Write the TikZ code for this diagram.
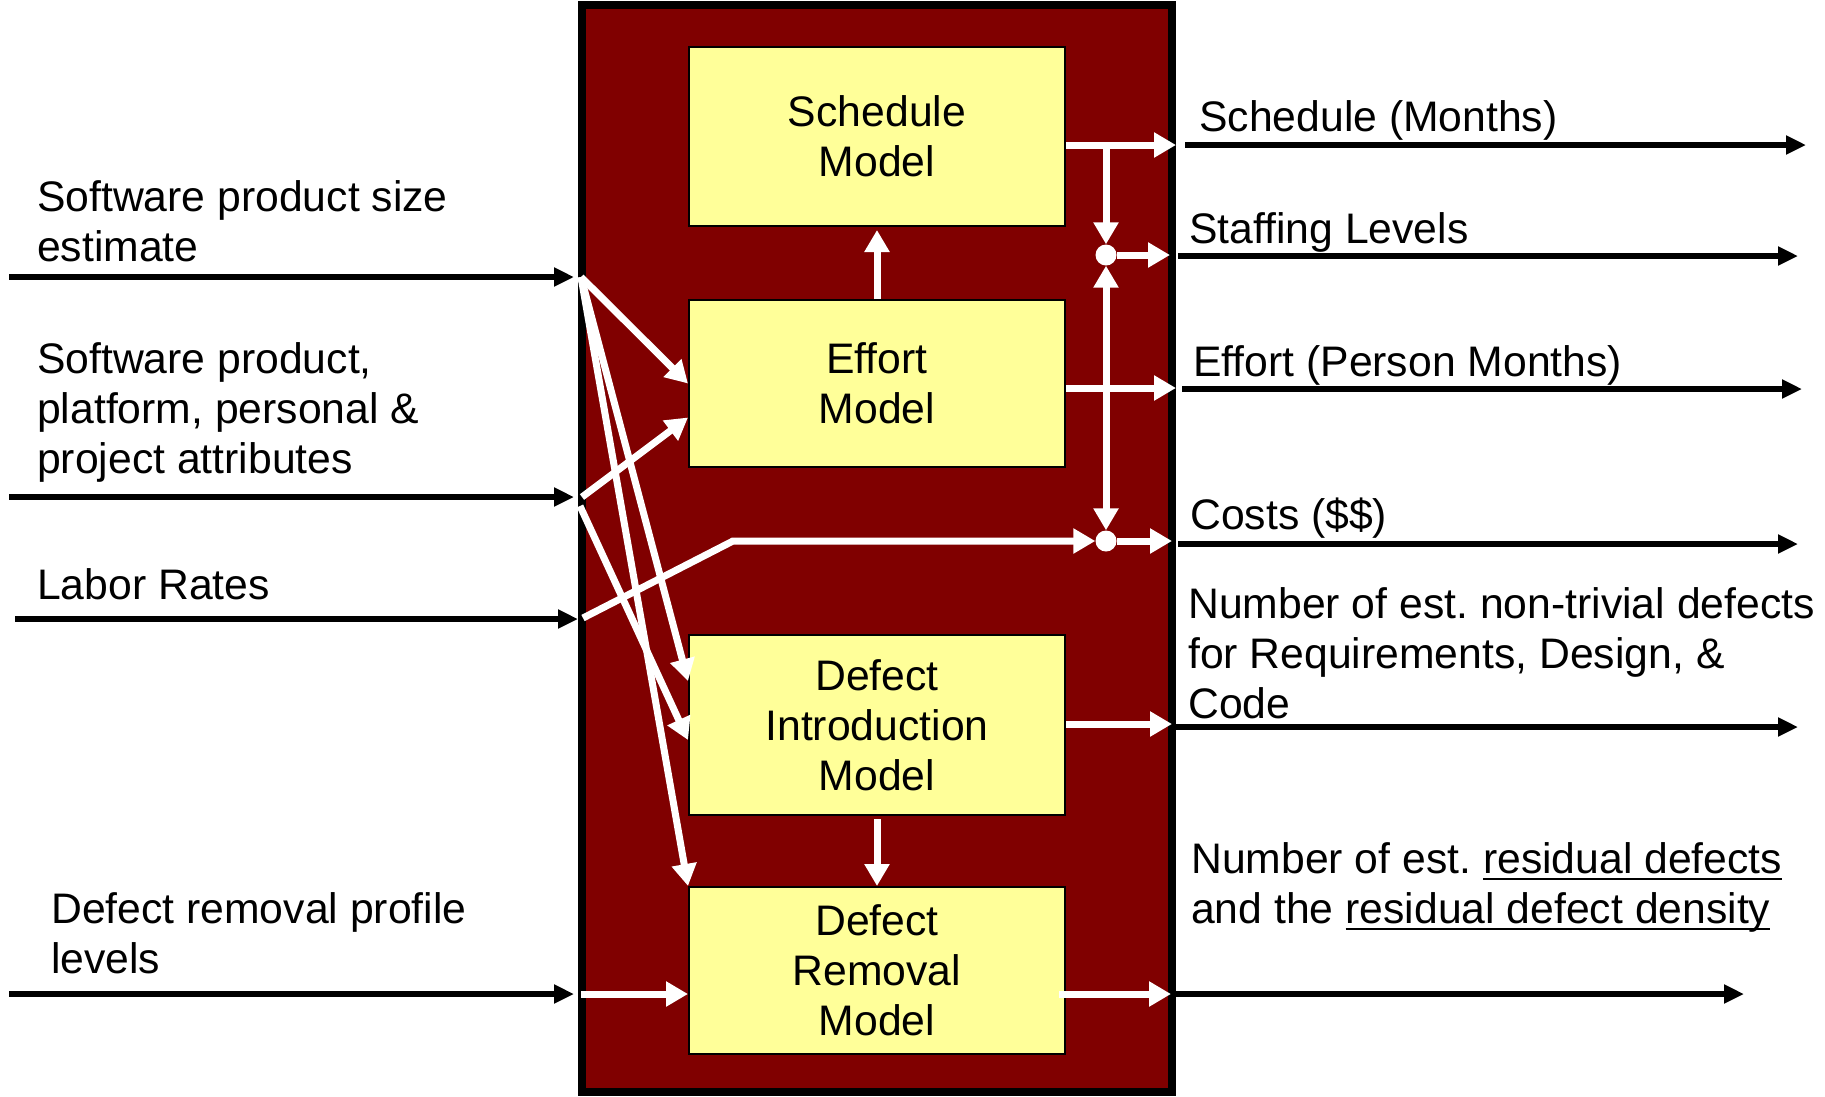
\documentclass[tikz,border=0pt]{standalone}
\usepackage{fontspec}
\setmainfont{Liberation Sans}
\usetikzlibrary{arrows.meta,calc}
\definecolor{boxred}{HTML}{800000}
\definecolor{modelyellow}{HTML}{FFFF99}
% underline drawn as a rule just below the baseline (descenders cross it)
\newcommand\undl[1]{\setbox0\hbox{#1}\dp0=0pt\vtop{\box0\kern5pt\hrule height 1.6pt}}
\frenchspacing
\begin{document}
\begin{tikzpicture}[x=1pt,y=-1pt,
  every node/.style={font=\fontsize{42.7}{50}\selectfont},
  model/.style={draw=black, line width=2pt, fill=modelyellow, minimum width=376pt,
    align=center, inner sep=0pt},
  lbl/.style={anchor=base west, align=left, inner sep=0pt},
  flow/.style={line width=6pt, -{Triangle[length=20pt,width=18pt]}},
  warrow/.style={draw=white, line width=7pt, -{Triangle[length=22pt,width=24pt]}},
  junction/.style={circle, fill=white, minimum size=21pt, inner sep=0pt},
]
\useasboundingbox (0,0) rectangle (1825,1096);

% the estimation model enclosure
\draw[line width=8pt, fill=boxred] (582,5) rectangle (1172,1092);

% sub-models
\node[model, minimum height=179pt] (sched)   at (877,136.5) {Schedule\\Model};
\node[model, minimum height=167pt] (effort)  at (877,383.5) {Effort\\Model};
\node[model, minimum height=180pt] (intro)   at (877,725)   {Defect\\Introduction\\Model};
\node[model, minimum height=167pt] (removal) at (877,970.5) {Defect\\Removal\\Model};

% input labels (placed by the baseline of their last line)
\node[lbl] (lsize)  at (37,261) {Software product size\\estimate};
\node[lbl] (lattr)  at (37,473) {Software product,\\platform, personal \&\\project attributes};
\node[lbl] (llabor) at (37,599) {Labor Rates};
\node[lbl] (lprof)  at (51,973) {Defect removal profile\\levels};

% output labels
\node[lbl] (osched) at (1199,131) {Schedule (Months)};
\node[lbl] (ostaff) at (1189,243) {Staffing Levels};
\node[lbl] (oeff)   at (1193,376) {Effort (Person Months)};
\node[lbl] (ocost)  at (1190,529) {Costs (\$\$)};
\node[lbl] (odef)   at (1188,718) {Number of est. non-trivial defects\\for Requirements, Design, \&\\Code};
\node[lbl] (ores)   at (1191,923) {Number of est. \undl{residual defects}\\and the \undl{residual defect density}};

% input connectors
\coordinate (s1) at (9,277);   \coordinate (t1) at (574,277);  \coordinate (in1) at (581,277);
\coordinate (s2) at (9,497);   \coordinate (t2) at (574,497);  \coordinate (in2) at (582,497);
\coordinate (in2b) at (580,506);
\coordinate (s3) at (15,619);  \coordinate (t3) at (578,619);  \coordinate (in3) at (583,618);
\coordinate (s4) at (9,994);   \coordinate (t4) at (574,994);  \coordinate (in4) at (581,994);

\draw[flow] (s1) -- (t1);
\draw[flow] (s2) -- (t2);
\draw[flow] (s3) -- (t3);
\draw[flow] (s4) -- (t4);

% junction points
\node[junction] (jstaff) at (1106,255) {};
\node[junction] (jcost)  at (1106,541) {};
\coordinate (lbend) at (733,541);

% output points on the enclosure
\coordinate (r1) at (1176,145);
\coordinate (r2) at (1170,255);
\coordinate (r3) at (1176,388);
\coordinate (r4) at (1172,541);
\coordinate (r5) at (1172,724);
\coordinate (r6) at (1171,994);

% inputs into the sub-models
\draw[warrow] (in1) -- (effort.west);
\draw[warrow] (in2) -- ($(effort.west)+(0,34)$);
\draw[warrow] (in1) -- ($(intro.west)+(0,-44)$);
\draw[warrow] (in2b) -- ($(intro.west)+(0,15)$);
\draw[warrow] (in1) -- (removal.north west);
\draw[warrow] (in4) -- (removal.west |- in4);
\draw[warrow] (in3) -- (lbend) -- (jcost.west);

% flows between sub-models
\draw[warrow, shorten >=3pt] (effort.north) -- (sched.south);
\draw[warrow, shorten <=3pt] (intro.south) -- (removal.north);

% outputs of the sub-models
\draw[warrow] (sched.east |- r1) -- (r1);
\draw[warrow] (jstaff |- r1) -- (jstaff.north);
\draw[warrow] (jstaff.east) -- (r2);
\draw[warrow] (effort.east |- r3) -- (r3);
\draw[warrow] (jstaff |- r3) -- (jstaff.south);
\draw[warrow] (jstaff |- r3) -- (jcost.north);
\draw[warrow] (jcost.east) -- (r4);
\draw[warrow] (intro.east |- r5) -- (r5);
\draw[warrow] ([xshift=-7pt]removal.east |- r6) -- (r6);

% outgoing results
\coordinate (u1) at (1185,145); \coordinate (v1) at (1806,145);
\coordinate (u2) at (1178,256); \coordinate (v2) at (1798,256);
\coordinate (u3) at (1182,389); \coordinate (v3) at (1802,389);
\coordinate (u4) at (1178,544); \coordinate (v4) at (1798,544);
\coordinate (u5) at (1176,727); \coordinate (v5) at (1798,727);
\coordinate (u6) at (1173,994); \coordinate (v6) at (1744,994);
\draw[flow] (u1) -- (v1);
\draw[flow] (u2) -- (v2);
\draw[flow] (u3) -- (v3);
\draw[flow] (u4) -- (v4);
\draw[flow] (u5) -- (v5);
\draw[flow] (u6) -- (v6);
\end{tikzpicture}
\end{document}
